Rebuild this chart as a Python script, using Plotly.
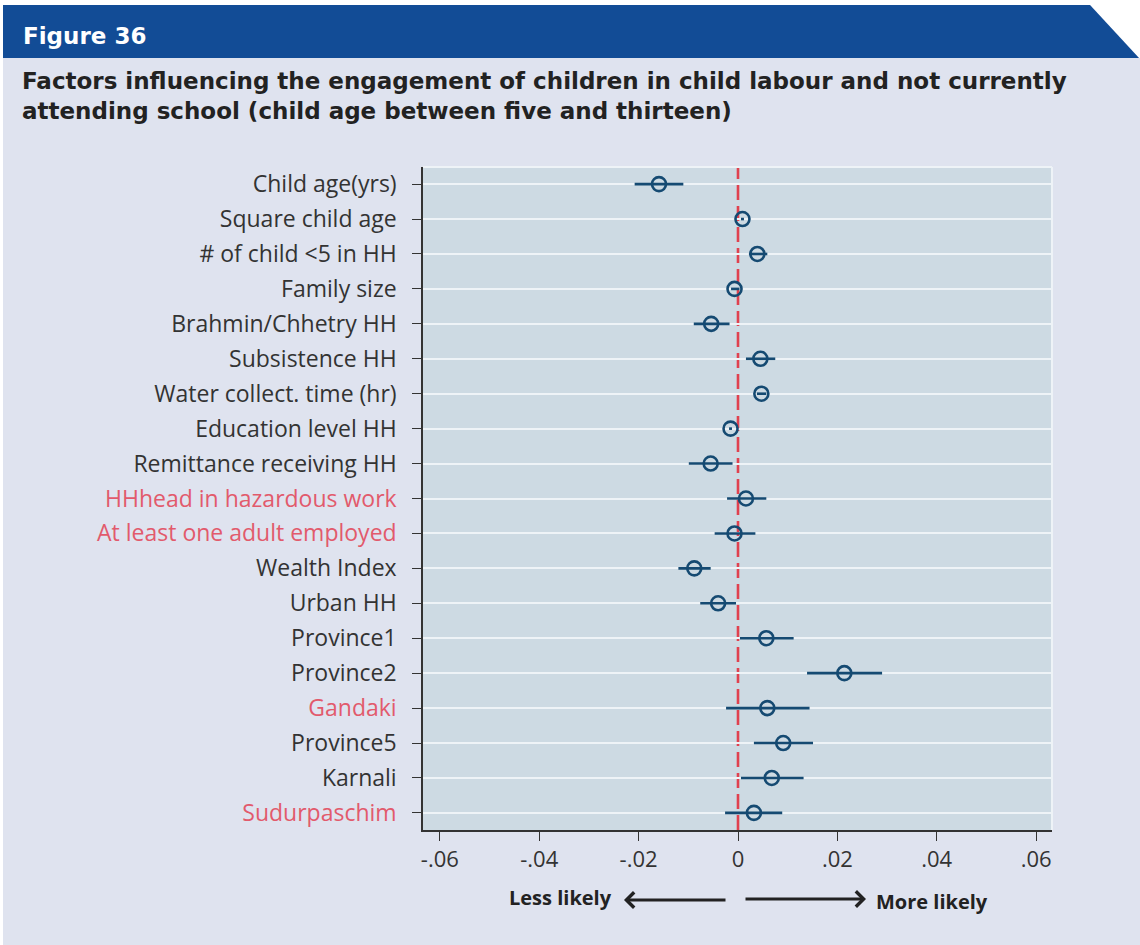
import plotly.graph_objects as go

# ---------------- data ----------------
labels = [
    "Child age(yrs)", "Square child age", "# of child <5 in HH", "Family size",
    "Brahmin/Chhetry HH", "Subsistence HH", "Water collect. time (hr)",
    "Education level HH", "Remittance receiving HH", "HHhead in hazardous work",
    "At least one adult employed", "Wealth Index", "Urban HH", "Province1",
    "Province2", "Gandaki", "Province5", "Karnali", "Sudurpaschim",
]
highlighted = [
    "HHhead in hazardous work", "At least one adult employed", "Gandaki", "Sudurpaschim",
]
estimate = [
    -0.0159, 0.0009, 0.0039, -0.0007, -0.0054, 0.0045, 0.0047, -0.0015, -0.0055,
    0.0016, -0.0007, -0.0088, -0.0040, 0.0057, 0.0214, 0.0059, 0.0091, 0.0068, 0.0032,
]
ci_low = [
    -0.0208, 0.0006, 0.0022, -0.0014, -0.0089, 0.0016, 0.0038, -0.0018, -0.0099,
    -0.0022, -0.0047, -0.0120, -0.0076, 0.0004, 0.0139, -0.0024, 0.0032, 0.0006, -0.0026,
]
ci_high = [
    -0.0110, 0.0012, 0.0059, 0.0003, -0.0017, 0.0075, 0.0057, -0.0012, -0.0011,
    0.0057, 0.0035, -0.0055, -0.0004, 0.0112, 0.0290, 0.0144, 0.0151, 0.0132, 0.0089,
]
x_ticks = [-0.06, -0.04, -0.02, 0, 0.02, 0.04, 0.06]
x_tick_text = ["-.06", "-.04", "-.02", "0", ".02", ".04", ".06"]

# ---------------- style ----------------
W, H = 1140, 945
L, R, T, B = 423, 1052, 167, 830
PAGE_BG = "#dfe3ef"
PLOT_BG = "#cddae3"
MARK = "#154a72"
RED_LBL = "#e25a6c"
TXT = "#333333"

def px(x):
    return (x - L) / (R - L)

def py(y):
    return (B - y) / (B - T)

err_plus = [h - e for h, e in zip(ci_high, estimate)]
err_minus = [e - l for e, l in zip(estimate, ci_low)]

fig = go.Figure()
fig.add_trace(go.Scatter(
    x=estimate, y=labels, mode="markers",
    marker=dict(symbol="circle-open", size=14, color=MARK, line=dict(width=2.6, color=MARK)),
    error_x=dict(type="data", symmetric=False, array=err_plus, arrayminus=err_minus,
                 width=0, thickness=2.6, color=MARK),
    showlegend=False, hoverinfo="skip",
))

ticktext = [
    f"<span style='color:{RED_LBL}'>{s}</span>" if s in highlighted else s for s in labels
]

shapes = [
    dict(type="path", xref="paper", yref="paper",
         path=f"M {px(0)} {py(0)} L {px(1140)} {py(0)} L {px(1140)} {py(5)} L {px(0)} {py(5)} Z",
         fillcolor="white", line=dict(width=0)),
    dict(type="path", xref="paper", yref="paper",
         path=f"M {px(0)} {py(0)} L {px(3)} {py(0)} L {px(3)} {py(945)} L {px(0)} {py(945)} Z",
         fillcolor="white", line=dict(width=0)),
    dict(type="path", xref="paper", yref="paper",
         path=f"M {px(1090)} {py(5)} L {px(1140)} {py(5)} L {px(1140)} {py(58)} L {px(1139)} {py(58)} Z",
         fillcolor="white", line=dict(width=0)),
    dict(type="path", xref="paper", yref="paper",
         path=f"M {px(3)} {py(5)} L {px(1090)} {py(5)} L {px(1139)} {py(58)} L {px(3)} {py(58)} Z",
         fillcolor="#124c96", line=dict(width=0)),
    # top and right white border of plot
    dict(type="line", xref="paper", yref="paper", x0=0, x1=1, y0=1, y1=1,
         line=dict(color="#eef3f7", width=2)),
    dict(type="line", xref="paper", yref="paper", x0=1, x1=1, y0=0, y1=1,
         line=dict(color="#eef3f7", width=2)),
    # zero reference line
    dict(type="line", xref="x", yref="paper", x0=0, x1=0, y0=0, y1=1, layer="below",
         line=dict(color="#e0414f", width=2.6, dash="15px,6px")),
]

annotations = [
    dict(text="<b>Figure 36</b>", xref="paper", yref="paper", x=px(21), y=py(36),
         xanchor="left", yanchor="middle", showarrow=False,
         font=dict(family="DejaVu Sans", size=23, color="white")),
    dict(text="<b>Factors influencing the engagement of children in child labour and not currently<br>"
              "attending school (child age between five and thirteen)</b>",
         xref="paper", yref="paper", x=px(20), y=py(66), xanchor="left", yanchor="top",
         align="left", showarrow=False,
         font=dict(family="DejaVu Sans", size=23, color="#222222")),
    dict(text="<b>Less likely</b>", xref="paper", yref="paper", x=px(614), y=py(897),
         xanchor="right", yanchor="middle", showarrow=False,
         font=dict(family="Open Sans", size=20, color="#222222")),
    dict(text="<b>More likely</b>", xref="paper", yref="paper", x=px(874), y=py(901),
         xanchor="left", yanchor="middle", showarrow=False,
         font=dict(family="Open Sans", size=20, color="#222222")),
    dict(text="", xref="paper", yref="paper", x=px(624), y=py(900), ax=103, ay=0,
         showarrow=True, arrowhead=4, arrowsize=1, arrowwidth=3, arrowcolor="#222222"),
    dict(text="", xref="paper", yref="paper", x=px(866), y=py(899), ax=-122, ay=0,
         showarrow=True, arrowhead=4, arrowsize=1, arrowwidth=3, arrowcolor="#222222"),
]

fig.update_layout(
    width=W, height=H,
    margin=dict(l=L, r=W - R, t=T, b=H - B, pad=0),
    paper_bgcolor=PAGE_BG, plot_bgcolor=PLOT_BG,
    font=dict(family="Open Sans", color=TXT),
    shapes=shapes, annotations=annotations,
    xaxis=dict(range=[-0.0634, 0.0632], tickvals=x_ticks, ticktext=x_tick_text,
               showgrid=False, zeroline=False, showline=True, linecolor="#333333", linewidth=1.5,
               ticks="outside", ticklen=9, tickwidth=1.3, tickcolor="#333333",
               tickfont=dict(size=22, color=TXT), fixedrange=True),
    yaxis=dict(type="category", categoryorder="array", categoryarray=labels,
               range=[18.49, -0.49], tickvals=labels, ticktext=ticktext,
               showgrid=True, gridcolor="#eef3f7", gridwidth=2.2, zeroline=False,
               showline=True, linecolor="#333333", linewidth=1.5,
               ticks="outside", ticklen=9, tickwidth=1.3, tickcolor="#333333",
               ticklabelstandoff=11,
               tickfont=dict(size=23, color=TXT), fixedrange=True),
)

fig.write_html("out.html", config={"displayModeBar": False},
               post_script="document.body.style.margin='0';document.body.style.overflow='hidden';")
